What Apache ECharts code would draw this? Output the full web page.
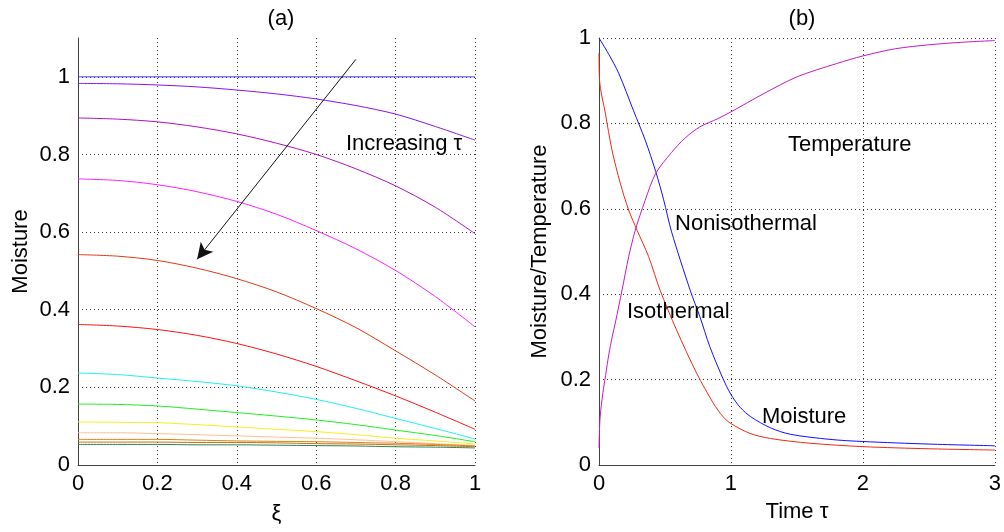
<!DOCTYPE html>
<html>
<head>
<meta charset="utf-8">
<script src="https://cdn.jsdelivr.net/npm/echarts@6/dist/echarts.min.js"></script>
<style>
  html, body { margin: 0; padding: 0; background: #fff; }
  #chart { width: 1004px; height: 532px; }
</style>
</head>
<body>
<div id="chart"></div>
<script>
// (a) Moisture profiles across the slab, one curve per time step
const xi = [0, 0.1, 0.2, 0.3, 0.4, 0.5, 0.6, 0.7, 0.8, 0.9, 1.0];
const profiles = [
  [1.000, 1.000, 1.000, 1.000, 1.000, 1.000, 1.000, 1.000, 1.000, 1.000, 1.000],
  [0.983, 0.982, 0.979, 0.974, 0.966, 0.956, 0.943, 0.926, 0.904, 0.872, 0.837],
  [0.894, 0.891, 0.884, 0.871, 0.853, 0.829, 0.800, 0.763, 0.719, 0.664, 0.596],
  [0.737, 0.733, 0.722, 0.704, 0.679, 0.646, 0.604, 0.557, 0.501, 0.434, 0.356],
  [0.542, 0.538, 0.527, 0.507, 0.480, 0.446, 0.403, 0.354, 0.294, 0.232, 0.165],
  [0.362, 0.358, 0.349, 0.334, 0.313, 0.286, 0.254, 0.217, 0.178, 0.136, 0.092],
  [0.237, 0.233, 0.224, 0.215, 0.204, 0.188, 0.169, 0.146, 0.120, 0.094, 0.067],
  [0.157, 0.156, 0.152, 0.144, 0.135, 0.126, 0.116, 0.104, 0.090, 0.076, 0.060],
  [0.111, 0.110, 0.109, 0.104, 0.098, 0.092, 0.086, 0.078, 0.069, 0.062, 0.054],
  [0.083, 0.083, 0.081, 0.078, 0.075, 0.072, 0.069, 0.065, 0.060, 0.055, 0.050],
  [0.066, 0.066, 0.066, 0.064, 0.062, 0.061, 0.060, 0.058, 0.056, 0.053, 0.049],
  [0.059, 0.059, 0.059, 0.058, 0.058, 0.057, 0.055, 0.054, 0.052, 0.050, 0.047],
  [0.053, 0.053, 0.053, 0.052, 0.052, 0.051, 0.050, 0.049, 0.047, 0.046, 0.044]
];
const profileColors = ['#3c3cf5', '#8a10f0', '#b010c0', '#ff20ff', '#e03a10', '#ff1010',
  '#20f0f0', '#20f020', '#f5f020', '#ffc090', '#e08010', '#c07010', '#308050'];

// (b) Average moisture and temperature against time
const tNoniso = [0, 0.07, 0.15, 0.26, 0.35, 0.43, 0.49, 0.55, 0.69, 0.765, 0.84, 0.94, 1.0, 1.07, 1.15, 1.3, 1.45, 1.75, 2.0, 2.5, 3.0];
const moistNoniso = [1.0, 0.964, 0.917, 0.831, 0.761, 0.687, 0.621, 0.546, 0.41, 0.347, 0.277, 0.202, 0.165, 0.135, 0.113, 0.087, 0.072, 0.06, 0.055, 0.049, 0.045];
const tIso = [0, 0.004, 0.048, 0.098, 0.161, 0.225, 0.288, 0.376, 0.462, 0.588, 0.74, 0.866, 0.94, 1.0, 1.144, 1.3, 1.6, 2.0, 2.5, 3.0];
const moistIso = [0.965, 0.90, 0.824, 0.738, 0.66, 0.597, 0.55, 0.488, 0.41, 0.316, 0.215, 0.145, 0.113, 0.097, 0.074, 0.062, 0.051, 0.043, 0.038, 0.035];
const tTemp = [0, 0.008, 0.03, 0.05, 0.075, 0.1, 0.125, 0.175, 0.225, 0.275, 0.35, 0.43, 0.55, 0.65, 0.765, 0.9, 1.0, 1.25, 1.5, 1.8, 2.0, 2.25, 2.5, 2.75, 3.0];
const temperature = [0.04, 0.11, 0.17, 0.21, 0.26, 0.30, 0.335, 0.41, 0.488, 0.55, 0.62, 0.683, 0.732, 0.765, 0.792, 0.811, 0.827, 0.87, 0.909, 0.94, 0.958, 0.975, 0.984, 0.99, 0.994];

const FONT = "'Liberation Sans', Arial, sans-serif";
const FS = 22;

function pairs(xs, ys) { return xs.map((x, i) => [x, ys[i]]); }

const axisLineStyle = { lineStyle: { color: '#404040', width: 1 } };
const gridLineStyle = { show: true, lineStyle: { color: '#333', width: 1, type: [1, 3] } };
const tickLabel = { color: '#000', fontSize: FS, fontFamily: FONT };
const nameStyle = { color: '#000', fontSize: FS, fontFamily: FONT };

const series = [];
profiles.forEach((p, k) => {
  series.push({
    type: 'line', xAxisIndex: 0, yAxisIndex: 0,
    data: pairs(xi, p), smooth: 0.3, showSymbol: false, symbol: 'none',
    lineStyle: { color: profileColors[k], width: 1 }, silent: true, z: 3,
    markLine: k === 0 ? {
      silent: true, symbol: ['none', 'arrow'], symbolSize: [12, 16],
      lineStyle: { color: '#111', width: 1, type: 'solid' },
      label: { show: false },
      data: [[{ coord: [0.70, 1.045] }, { coord: [0.30, 0.53] }]]
    } : undefined
  });
});

series.push(
  { type: 'line', xAxisIndex: 1, yAxisIndex: 1, data: pairs(tNoniso, moistNoniso), smooth: 0.3,
    symbol: 'none', lineStyle: { color: '#1010ff', width: 1 }, silent: true },
  { type: 'line', xAxisIndex: 1, yAxisIndex: 1, data: pairs(tIso, moistIso), smooth: 0.3,
    symbol: 'none', lineStyle: { color: '#f02a10', width: 1 }, silent: true },
  { type: 'line', xAxisIndex: 1, yAxisIndex: 1, data: pairs(tTemp, temperature), smooth: 0.3,
    symbol: 'none', lineStyle: { color: '#c818c8', width: 1 }, silent: true }
);

// text annotations placed in data coordinates
function note(xIdx, yIdx, items) {
  return {
    type: 'scatter', xAxisIndex: xIdx, yAxisIndex: yIdx, symbolSize: 0, silent: true, z: 10,
    itemStyle: { opacity: 1 },
    data: items.map(a => ({ value: [a[1], a[2]], name: a[0] })),
    label: { show: true, position: 'right', distance: 0, formatter: '{b}', opacity: 1,
      color: '#000', fontSize: FS, fontFamily: FONT, textBorderWidth: 0 }
  };
}
series.push(note(0, 0, [['Increasing τ', 0.675, 0.828]]));
series.push(note(1, 1, [
  ['Temperature', 1.432, 0.749],
  ['Nonisothermal', 0.576, 0.564],
  ['Isothermal', 0.212, 0.358],
  ['Moisture', 1.235, 0.112]
]));

const chart = echarts.init(document.getElementById('chart'), null, { renderer: 'canvas' });
chart.setOption({
  backgroundColor: '#fff',
  animation: false,
  title: [
    { text: '(a)', left: 276, top: 3, textAlign: 'center',
      textStyle: { fontSize: FS, fontWeight: 'normal', color: '#000', fontFamily: FONT } },
    { text: '(b)', left: 797, top: 3, textAlign: 'center',
      textStyle: { fontSize: FS, fontWeight: 'normal', color: '#000', fontFamily: FONT } }
  ],
  grid: [
    { left: 78, right: 529, top: 38, bottom: 67 },
    { left: 599, right: 9, top: 38, bottom: 67 }
  ],
  xAxis: [
    { type: 'value', gridIndex: 0, min: 0, max: 1, interval: 0.2,
      name: 'ξ', nameLocation: 'middle', nameGap: 38, nameTextStyle: nameStyle,
      axisLine: axisLineStyle, axisTick: { show: false },
      axisLabel: Object.assign({ margin: 8 }, tickLabel),
      splitLine: gridLineStyle },
    { type: 'value', gridIndex: 1, min: 0, max: 3, interval: 1,
      name: 'Time τ', nameLocation: 'middle', nameGap: 36, nameTextStyle: nameStyle,
      axisLine: axisLineStyle, axisTick: { show: false },
      axisLabel: Object.assign({ margin: 8 }, tickLabel),
      splitLine: gridLineStyle }
  ],
  yAxis: [
    { type: 'value', gridIndex: 0, min: 0, max: 1.1, interval: 0.2,
      name: 'Moisture', nameLocation: 'middle', nameGap: 46, nameTextStyle: nameStyle,
      axisLine: axisLineStyle, axisTick: { show: false },
      axisLabel: Object.assign({ margin: 8, showMaxLabel: false }, tickLabel),
      splitLine: Object.assign({ showMaxLine: false }, gridLineStyle) },
    { type: 'value', gridIndex: 1, min: 0, max: 1, interval: 0.2,
      name: 'Moisture/Temperature', nameLocation: 'middle', nameGap: 48, nameTextStyle: nameStyle,
      axisLine: axisLineStyle, axisTick: { show: false },
      axisLabel: Object.assign({ margin: 8 }, tickLabel),
      splitLine: gridLineStyle }
  ],
  series: series
});
</script>
</body>
</html>
